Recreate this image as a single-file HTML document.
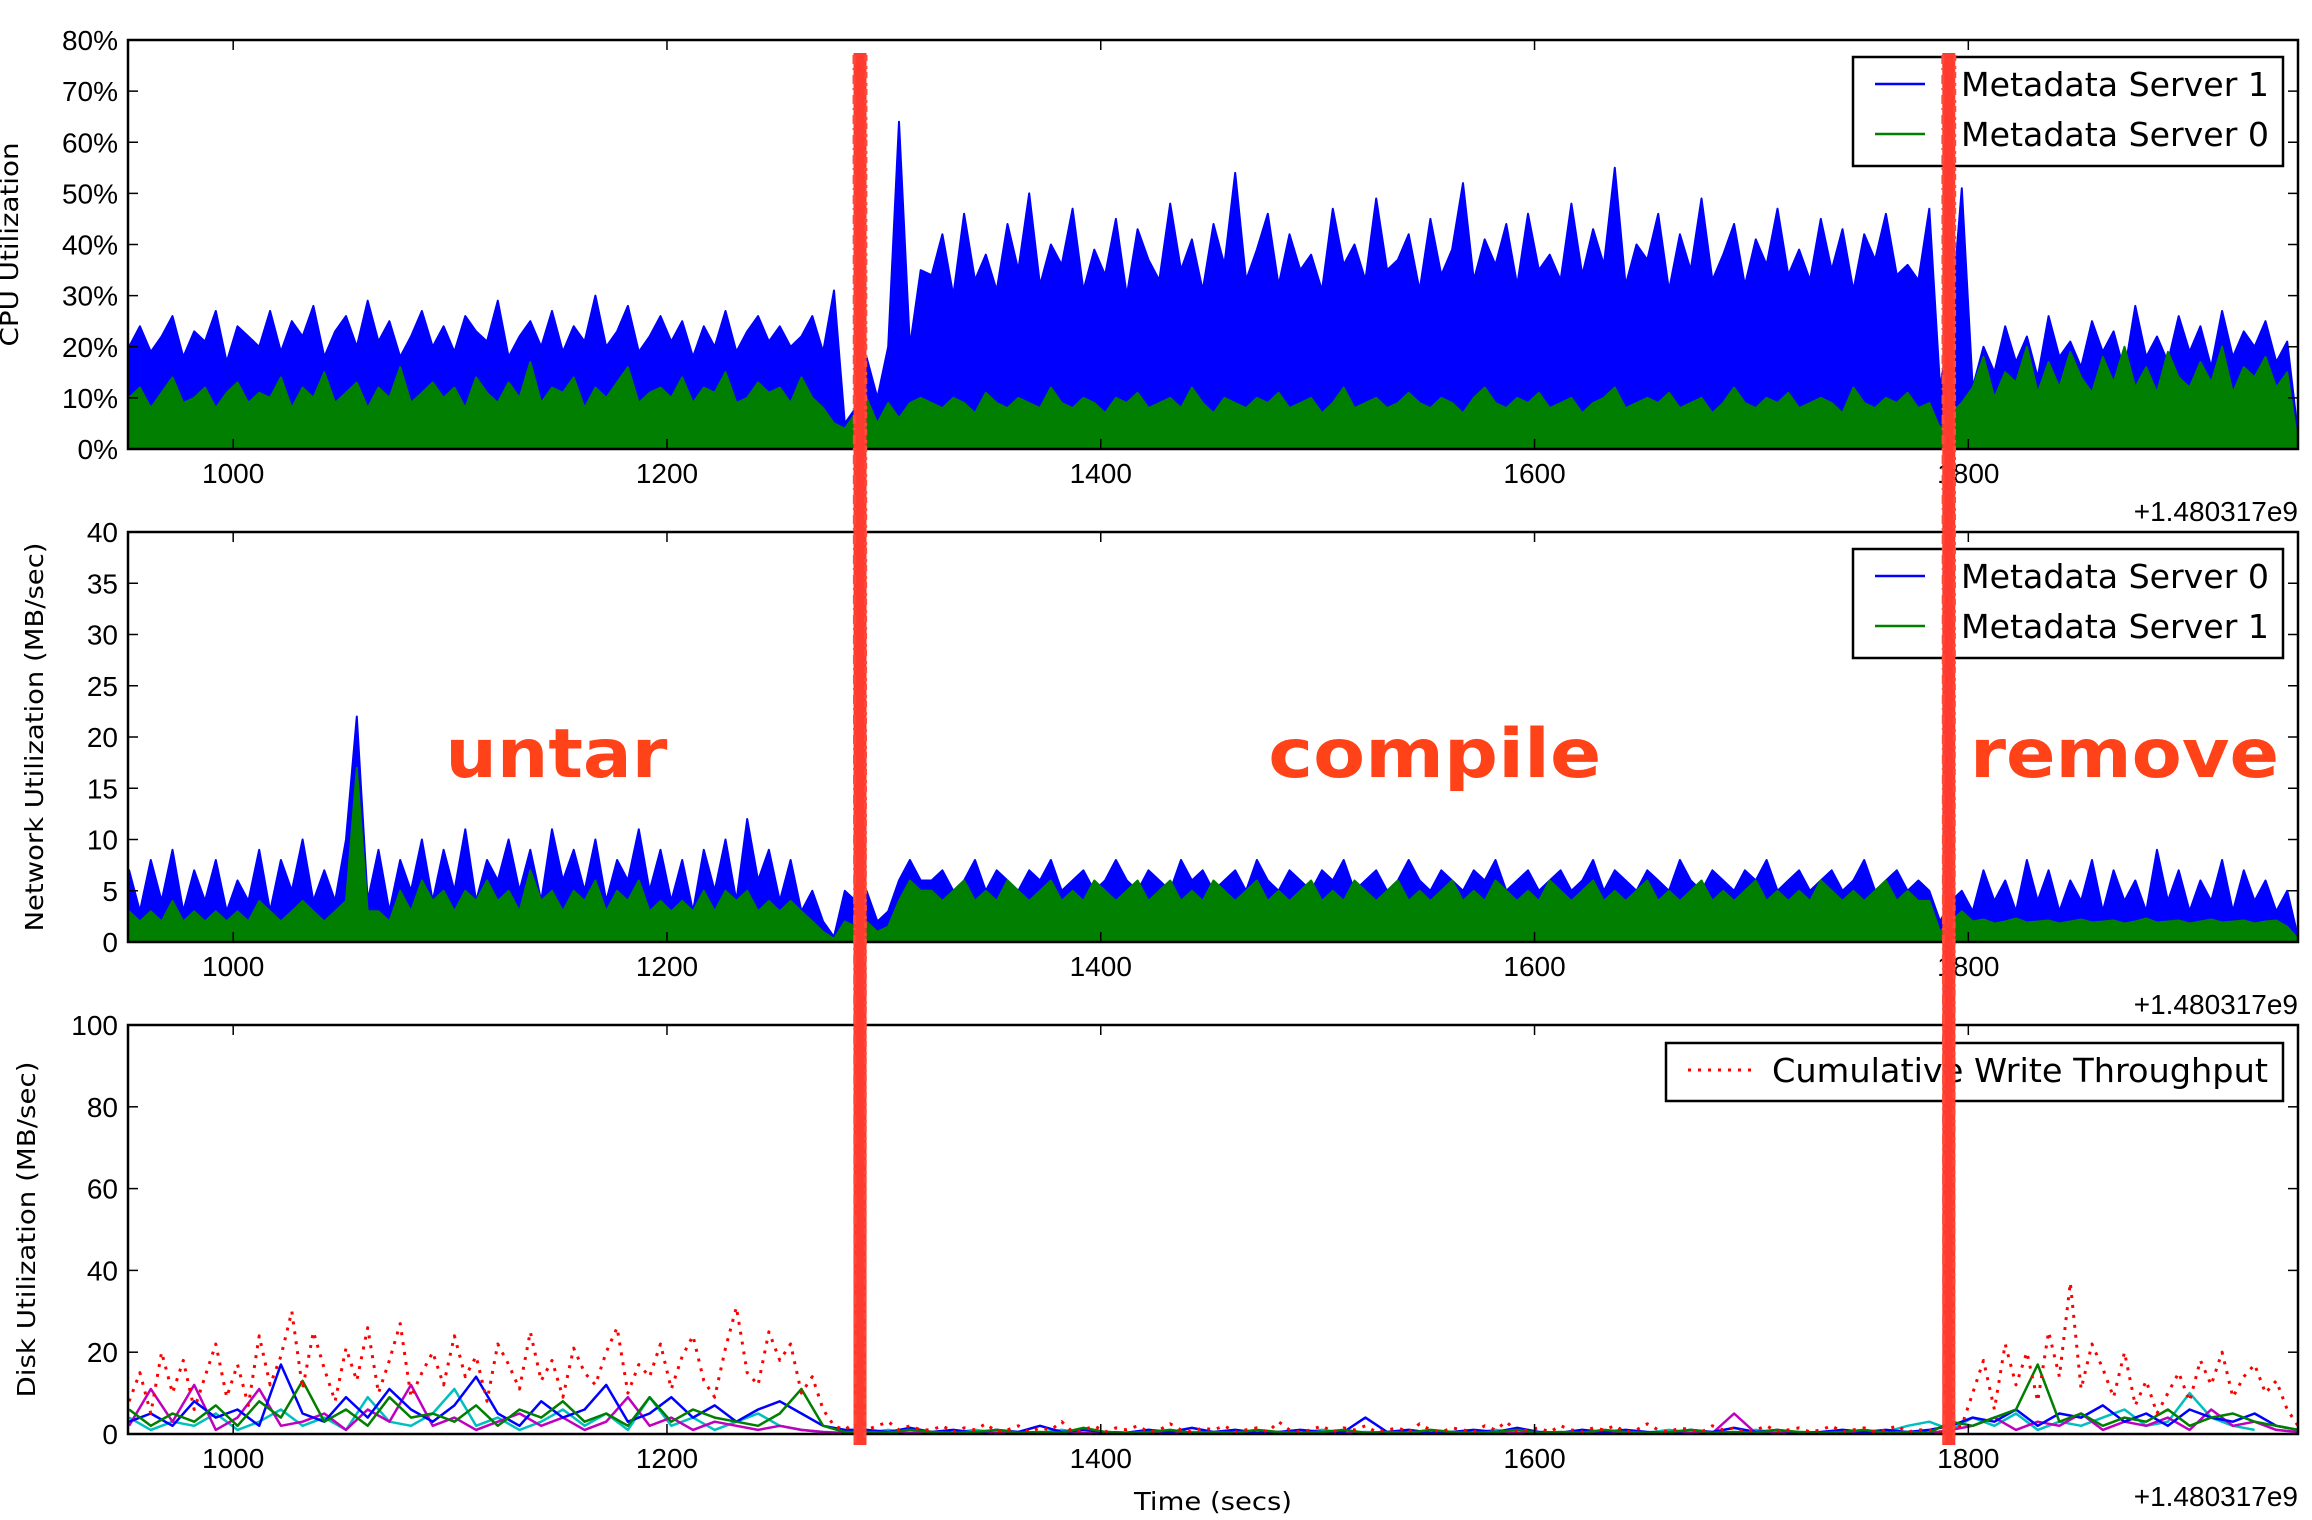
<!DOCTYPE html>
<html><head><meta charset="utf-8">
<style>
html,body{margin:0;padding:0;background:#fff;}
svg{display:block;}
.tick{font-family:"Liberation Sans",sans-serif;font-size:28px;fill:#000;}
.lab{font-family:"DejaVu Sans",sans-serif;font-size:25px;fill:#000;}
.leg{font-family:"DejaVu Sans",sans-serif;font-size:33px;fill:#000;}
.ann{font-family:"DejaVu Sans",sans-serif;font-weight:bold;font-size:68px;fill:#ff4218;}
</style></head>
<body>
<svg id="chart" width="2312" height="1520" viewBox="0 0 2312 1520" xmlns="http://www.w3.org/2000/svg"></svg>
<script>
// ---- data (t = 952 + 5*i secs, offset +1.480317e9) ----
const T0 = 952, STEP = 5;
const cpuServer1 = [20,24,19,22,26,18,23,21,27,17,24,22,20,27,19,25,22,28,18,23,26,20,29,21,25,18,22,27,20,24,19,26,23,21,29,18,22,25,20,27,19,24,21,30,20,23,28,19,22,26,21,25,18,24,20,27,19,23,26,21,24,20,22,26,19,
 31,5,8,18,10,20,64,20,35,
 34,42,30,46,33,38,31,44,35,50,32,40,36,47,31,39,34,45,30,43,37,33,48,35,41,31,44,36,54,33,39,46,32,42,35,38,31,47,36,40,33,49,35,37,42,31,45,34,39,52,33,41,36,44,32,46,35,38,33,48,34,43,36,55,32,40,37,46,31,42,35,49,33,38,44,32,41,36,47,34,39,33,45,35,43,31,42,37,46,34,36,33,47,
 12,25,51,
 12,20,15,24,17,22,14,26,18,21,16,25,19,23,15,28,18,22,17,26,19,24,16,27,18,23,20,25,17,21,
 3];
const cpuServer0 = [10,12,8,11,14,9,10,12,8,11,13,9,11,10,14,8,12,10,15,9,11,13,8,12,10,16,9,11,13,10,12,8,14,11,9,13,10,17,9,12,11,14,8,12,10,13,16,9,11,12,10,14,9,12,11,15,9,10,13,11,12,9,14,10,8,
 5,4,7,10,5,9,6,9,10,
 9,8,10,9,7,11,9,8,10,9,8,12,9,8,10,9,7,10,9,11,8,9,10,8,12,9,7,10,9,8,10,9,11,8,9,10,7,9,12,8,9,10,8,9,11,9,8,10,9,7,10,12,9,8,10,9,11,8,9,10,7,9,10,12,8,9,10,9,11,8,9,10,7,9,12,9,8,10,9,11,8,9,10,9,7,12,9,8,10,9,11,8,9,
 4,7,9,
 12,18,10,15,13,20,11,17,12,19,14,11,18,13,20,12,16,11,19,14,12,17,13,20,11,16,14,18,12,15,
 1];
const netServer0 = [7,3,8,4,9,3,7,4,8,3,6,4,9,3,8,5,10,4,7,4,10,22,4,9,3,8,5,10,4,9,5,11,4,8,6,10,5,9,4,11,6,9,5,10,4,8,6,11,5,9,4,8,3,9,5,10,4,12,6,9,4,8,3,5,2,
 0.5,5,4,5,2,3,6,8,6,
 6,7,5,6,8,5,7,6,5,7,6,8,5,6,7,5,6,8,6,5,7,6,5,8,6,7,5,6,7,5,8,6,5,7,6,5,7,6,8,5,6,7,5,6,8,6,5,7,6,5,7,6,8,5,6,7,5,6,7,5,6,8,5,7,6,5,7,6,5,8,6,5,7,6,5,7,6,8,5,6,7,5,6,7,5,6,8,5,6,7,5,6,5,
 2,4,5,
 3,7,4,6,3,8,4,7,3,6,4,8,3,7,4,6,3,9,4,7,3,6,4,8,3,7,4,6,3,5,
 0.5];
const netServer1 = [3,2,3,2,4,2,3,2,3,2,3,2,4,3,2,3,4,3,2,3,4,17,3,3,2,5,3,6,4,5,3,5,4,6,4,5,3,7,4,5,3,5,4,6,3,5,4,6,3,4,3,4,3,5,3,5,4,5,3,4,3,4,3,2,1,
 0.3,2,1.5,2,1,1.5,4,6,5,
 5,4,5,6,4,5,4,6,5,4,5,6,4,5,4,6,5,4,5,6,4,5,6,4,5,4,6,5,4,5,6,4,5,4,5,6,4,5,4,6,5,4,5,6,4,5,4,5,6,4,5,4,6,5,4,5,4,6,5,4,5,6,4,5,4,5,6,4,5,4,5,6,4,5,4,5,6,4,5,4,5,4,6,5,4,5,4,5,6,4,5,4,4,
 1,2,3,
 2,2.2,1.8,2,2.3,1.9,2,2.1,1.8,2,2.2,1.9,2,2.1,1.8,2,2.3,1.9,2,2.1,1.8,2,2.2,1.9,2,2.1,1.8,2,2.1,1.5,
 0.3];
const diskCumulative = [8,15,5,20,10,18,6,14,22,9,17,7,24,12,19,30,11,25,16,8,21,13,26,10,18,27,9,15,20,12,24,14,19,8,22,17,11,25,13,18,9,21,15,12,20,26,10,17,14,22,11,19,24,13,9,21,31,15,12,25,18,22,10,14,6,
 2,1,3,1,2,3,1,2,1,
 1,2,0.5,1.5,1,2.5,0.5,1,2,0.5,1.5,1,3,0.5,1,2,0.5,1.5,1,2,0.5,1,2.5,1,0.5,1.5,1,2,0.5,1,1.5,0.5,3,1,0.5,1,2,0.5,1.5,1,2,0.5,1,1.5,0.5,2.5,1,0.5,1.5,1,0.5,2,1,3,0.5,1,1.5,0.5,2,1,0.5,1.5,1,2,0.5,1,2.5,1,0.5,1.5,1,0.5,2,1,1.5,0.5,1,2,0.5,1,1.5,0.5,1,2,0.5,1,1.5,0.5,1,2,0.5,1,1,
 0.5,1,2,
 10,18,6,22,12,20,8,25,14,37,11,22,16,9,20,7,13,5,10,15,8,18,12,20,9,14,17,10,13,6,
 2];
// per-disk series (t = 952 + 10*j)
const D0 = 952, DSTEP = 10;
const diskBlue = [3,5,2,8,4,6,2,17,5,3,9,4,11,6,3,7,14,5,2,8,4,6,12,3,5,9,4,7,3,6,8,5,2, 1,
 1,0.5,1.5,0.5,1,0.3,1,0.5,2,0.5,1,0.5,0.3,1,0.5,1.5,0.5,1,0.3,0.5,1,0.5,0.5,4,0.5,1,0.3,0.5,1,0.5,1.5,0.5,0.3,1,0.5,1,0.5,0.3,1,0.5,1.5,0.5,1,0.3,0.5,1,0.5,1,0.5,1,
 2,4,3,6,2,5,4,7,3,5,2,6,4,3,5,2,1];
const diskGreen = [6,2,5,3,7,2,8,4,13,3,6,2,9,4,5,3,7,2,6,4,8,3,5,2,9,3,6,4,3,2,5,11,2, 0.5,
 0.5,0.3,1,0.5,0.3,0.5,1,0.3,0.5,0.3,1.5,0.5,0.3,0.5,1,0.3,0.5,0.3,1,0.5,0.3,0.5,1,0.3,0.5,0.3,1,0.5,0.3,0.5,1,0.3,0.5,0.3,1,0.5,0.3,0.5,1,0.3,0.5,0.3,1,0.5,0.3,0.5,1,0.3,0.5,0.3,
 3,2,4,6,17,3,5,2,4,3,6,2,4,5,3,2,1];
const diskMagenta = [2,11,3,12,1,4,11,2,3,5,1,6,3,12,2,4,1,3,5,2,4,1,3,9,2,4,1,3,2,1,2,1,0.5, 0.2,
 0.2,0.2,0.2,0.2,0.2,0.2,0.2,0.2,0.2,0.2,0.2,0.2,0.2,0.2,0.2,0.2,0.2,0.2,0.2,0.2,0.2,0.2,0.2,0.2,0.2,0.2,0.2,0.2,0.2,0.2,0.2,0.2,0.2,0.2,0.2,0.2,0.2,0.2,0.2,0.2,5,0.2,0.2,0.2,0.2,0.2,0.2,0.2,0.2,0.2,
 1,2,4,1,3,2,5,1,3,2,4,1,6,2,3,1,0.5];
const diskCyan = [4,1,3,2,5,1,3,6,2,4,1,9,3,2,5,11,2,4,1,3,6,2,5,1,9,2,4,1,3,5,2,1,0.5, 0.3,
 0.3,1,0.3,0.5,0.3,1,0.3,0.5,0.3,1,0.3,0.5,0.3,1,0.3,0.5,0.3,1,0.3,0.5,0.3,1,0.3,0.5,0.3,1,0.3,0.5,0.3,1,0.3,0.5,0.3,1,0.3,0.5,0.3,1,0.3,0.5,0.3,1,0.3,0.5,0.3,1,0.3,0.5,
 2,3,1,4,2,5,1,3,2,4,6,2,3,10,4,2,1];
const phaseBoundaries = [1289, 1791];
const phaseLabels = ["untar", "compile", "remove"];
const phaseLabelCenters = [1149, 1554, 1872];
const xTicks = [1000, 1200, 1400, 1600, 1800];
const cpuTicks = [0,10,20,30,40,50,60,70,80];
const netTicks = [0,5,10,15,20,25,30,35,40];
const diskTicks = [0,20,40,60,80,100];

// ---- layout ----
const NS = "http://www.w3.org/2000/svg";
const svg = document.getElementById("chart");
const L = 128, R = 2298, XMIN = 951.5, XMAX = 1952;
const panels = [{top:40,bot:449,max:80},{top:532,bot:942,max:40},{top:1025,bot:1434,max:100}];
function x(t){ return L + (t - XMIN) / (XMAX - XMIN) * (R - L); }
function yf(p){ return v => p.bot - v / p.max * (p.bot - p.top); }
function el(tag, attrs, parent){ const e = document.createElementNS(NS, tag); for (const k in attrs) e.setAttribute(k, attrs[k]); (parent||svg).appendChild(e); return e; }
function txt(s, attrs, parent){ const e = el("text", attrs, parent); e.textContent = s; return e; }

const defs = el("defs", {});
panels.forEach((p,i)=>{
  const cp = el("clipPath", {id:"clip"+i}, defs);
  el("rect", {x:L, y:p.top, width:R-L, height:p.bot-p.top}, cp);
});

function area(vals, t0, step, p, color, name, g){
  const y = yf(p);
  let d = "M" + x(t0).toFixed(1) + "," + p.bot;
  vals.forEach((v,i)=>{ d += " L" + x(t0+i*step).toFixed(1) + "," + y(v).toFixed(1); });
  d += " L" + x(t0+(vals.length-1)*step).toFixed(1) + "," + p.bot + " Z";
  const a = el("path", {d:d, fill:color, stroke:color, "stroke-width":2, "stroke-linejoin":"round"}, g);
  
  
}
function line(vals, t0, step, p, color, name, g, extra){
  const y = yf(p);
  let d = "";
  vals.forEach((v,i)=>{ d += (i? " L":"M") + x(t0+i*step).toFixed(1) + "," + y(v).toFixed(1); });
  const a = el("path", Object.assign({d:d, fill:"none", stroke:color, "stroke-width":2.5, "stroke-linejoin":"round"}, extra||{}), g);
  
  
}

function axes(p, idx, ticks, fmt, ylabel, ylx, ylLen){
  const y = yf(p);
  const g = el("g", {});
  
  
  xTicks.forEach(t=>{
    el("line", {x1:x(t), x2:x(t), y1:p.bot, y2:p.bot-10, stroke:"#000", "stroke-width":1.5}, g);
    el("line", {x1:x(t), x2:x(t), y1:p.top, y2:p.top+10, stroke:"#000", "stroke-width":1.5}, g);
    const lt = txt(String(t), {x:x(t), y:p.bot+34, "text-anchor":"middle", class:"tick"}, g);
    
    
  });
  ticks.forEach(v=>{
    el("line", {x1:L, x2:L+10, y1:y(v), y2:y(v), stroke:"#000", "stroke-width":1.5}, g);
    el("line", {x1:R, x2:R-10, y1:y(v), y2:y(v), stroke:"#000", "stroke-width":1.5}, g);
    const lt = txt(fmt(v), {x:118, y:y(v)+10, "text-anchor":"end", class:"tick"}, g);
    
    
  });
  el("rect", {x:L, y:p.top, width:R-L, height:p.bot-p.top, fill:"none", stroke:"#000", "stroke-width":2.5}, g);
  const off = txt("+1.480317e9", {x:R, y:p.bot+72, "text-anchor":"end", class:"tick"}, g);
  
  
  const cy = (p.top+p.bot)/2;
  const yl = txt(ylabel, {x:ylx, y:cy, "text-anchor":"middle", class:"lab", transform:"rotate(-90 "+ylx+" "+cy+")", textLength:ylLen, lengthAdjust:"spacingAndGlyphs"}, g);
  
  
}

function legend(p, entries, bx, by, bw, bh, idx){
  const g = el("g", {});
  
  
  el("rect", {x:bx, y:by, width:bw, height:bh, fill:"#fff", stroke:"#000", "stroke-width":2.5}, g);
  entries.forEach((e,i)=>{
    const cy = by + 27 + i*50;
    const ge = el("g", {}, g);
    
    
    el("line", Object.assign({x1:e.lx1, x2:e.lx2, y1:cy, y2:cy, stroke:e.color, "stroke-width":2.5}, e.extra||{}), ge);
    txt(e.label, {x:e.tx, y:cy+12, class:"leg", textLength:e.tl, lengthAdjust:"spacingAndGlyphs"}, ge);
  });
}

// Panel 0 CPU
const g0 = el("g", {"clip-path":"url(#clip0)"});


area(cpuServer1, T0, STEP, panels[0], "#0000ff", "cpu-server-1-area", g0);
area(cpuServer0, T0, STEP, panels[0], "#007f00", "cpu-server-0-area", g0);
axes(panels[0], 0, cpuTicks, v=>v+"%", "CPU Utilization", 18, 204);
legend(panels[0], [{label:"Metadata Server 1", color:"#0000ff", lx1:1875, lx2:1925, tx:1961, tl:308},
                   {label:"Metadata Server 0", color:"#007f00", lx1:1875, lx2:1925, tx:1961, tl:308}], 1853, 57, 430, 109, 0);

// Panel 1 Network
const g1 = el("g", {"clip-path":"url(#clip1)"});


area(netServer0, T0, STEP, panels[1], "#0000ff", "net-server-0-area", g1);
area(netServer1, T0, STEP, panels[1], "#007f00", "net-server-1-area", g1);
axes(panels[1], 1, netTicks, v=>String(v), "Network Utilization (MB/sec)", 43, 389);
legend(panels[1], [{label:"Metadata Server 0", color:"#0000ff", lx1:1875, lx2:1925, tx:1961, tl:308},
                   {label:"Metadata Server 1", color:"#007f00", lx1:1875, lx2:1925, tx:1961, tl:308}], 1853, 549, 430, 109, 1);

// Panel 2 Disk
const g2 = el("g", {"clip-path":"url(#clip2)"});


line(diskCyan, D0, DSTEP, panels[2], "#00bfbf", "disk-cyan-line", g2);
line(diskMagenta, D0, DSTEP, panels[2], "#bf00bf", "disk-magenta-line", g2);
line(diskBlue, D0, DSTEP, panels[2], "#0000ff", "disk-blue-line", g2);
line(diskGreen, D0, DSTEP, panels[2], "#007f00", "disk-green-line", g2);
line(diskCumulative, T0, STEP, panels[2], "#ff0000", "cumulative-write-throughput-line", g2, {"stroke-dasharray":"3,7", "stroke-width":3});
axes(panels[2], 2, diskTicks, v=>String(v), "Disk Utilization (MB/sec)", 35, 336);
legend(panels[2], [{label:"Cumulative Write Throughput", color:"#ff0000", lx1:1688, lx2:1755, tx:1772, tl:496, extra:{"stroke-dasharray":"3,7","stroke-width":3}}], 1666, 1043, 617, 58, 2);

const xl = txt("Time (secs)", {x:1213, y:1510, "text-anchor":"middle", class:"lab", textLength:158, lengthAdjust:"spacingAndGlyphs"});



// phase annotations
const annW = [222, 333, 309];
phaseLabels.forEach((s,i)=>{
  const a = txt(s, {x:x(phaseLabelCenters[i]), y:777, "text-anchor":"middle", class:"ann", textLength:annW[i], lengthAdjust:"spacingAndGlyphs"});
  
  
});
// phase boundary marker lines
phaseBoundaries.forEach((t,i)=>{
  const g = el("g", {});
  
  
  const cx = x(t);
  el("line", {x1:cx, x2:cx, y1:53, y2:1445, stroke:"#ff3b30", "stroke-width":13}, g);
  el("line", {x1:cx-6, x2:cx-5, y1:55, y2:1443, stroke:"#ff4a3a", "stroke-width":3, "stroke-dasharray":"9,4,2,5"}, g);
  el("line", {x1:cx+6, x2:cx+5, y1:55, y2:1443, stroke:"#ff4a3a", "stroke-width":3, "stroke-dasharray":"6,5,3,3"}, g);
});
</script>
</body></html>
